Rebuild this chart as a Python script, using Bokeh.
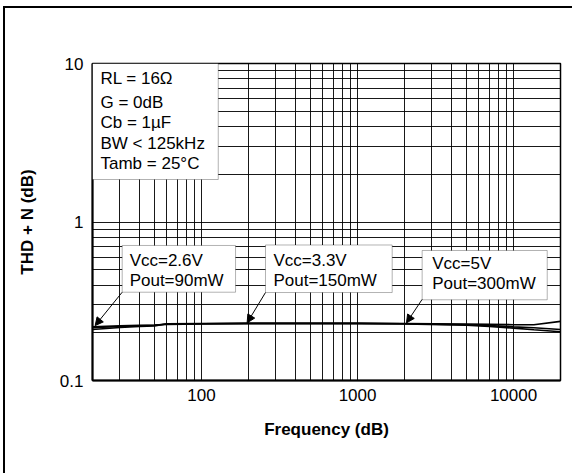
from bokeh.plotting import figure
from bokeh.models import (FixedTicker, CustomJSTickFormatter, BoxAnnotation, Label,
                          Arrow, NormalHead, Range1d)
from bokeh.embed import file_html
from bokeh.resources import INLINE

# ---- data ----
freq = [20, 30, 40, 50, 60, 100, 200, 500, 1000, 2000, 5000, 7000, 10000, 13500, 20000]
thd_vcc26 = [0.210, 0.216, 0.219, 0.221, 0.228, 0.229, 0.230, 0.230, 0.230, 0.229, 0.227, 0.226, 0.225, 0.225, 0.236]
thd_vcc33 = [0.215, 0.219, 0.221, 0.223, 0.227, 0.228, 0.229, 0.229, 0.229, 0.228, 0.225, 0.222, 0.218, 0.215, 0.210]
thd_vcc50 = [0.218, 0.221, 0.223, 0.224, 0.226, 0.227, 0.228, 0.228, 0.228, 0.227, 0.223, 0.219, 0.214, 0.209, 0.203]

x_major = [100, 1000, 10000]
x_minor = [20, 30, 40, 50, 60, 70, 80, 90,
           200, 300, 400, 500, 600, 700, 800, 900,
           2000, 3000, 4000, 5000, 6000, 7000, 8000, 9000, 20000]
y_major = [0.1, 1, 10]
y_minor = [0.2, 0.3, 0.4, 0.5, 0.6, 0.7, 0.8, 0.9, 2, 3, 4, 5, 6, 7, 8, 9]

cond_lines = ["RL = 16\u03a9", "G = 0dB", "Cb = 1\u00b5F", "BW < 125kHz", "Tamb = 25\u00b0C"]
note_labels = [("Vcc=2.6V", "Pout=90mW"), ("Vcc=3.3V", "Pout=150mW"), ("Vcc=5V", "Pout=300mW")]

FONT = "Liberation Sans"

p = figure(width=569, height=467, x_axis_type="log", y_axis_type="log",
           x_range=Range1d(20, 20000), y_range=Range1d(0.1, 10),
           output_backend="svg", toolbar_location=None,
           min_border_left=87, min_border_right=14, min_border_top=55, min_border_bottom=95)
p.styles = {"margin-left": "3px", "margin-top": "6px",
            "border-left": "2px solid black", "border-top": "2px solid black"}

p.background_fill_color = "white"
p.border_fill_color = "white"
p.outline_line_color = "black"
p.outline_line_width = 1.5

for ax in (p.xaxis[0], p.yaxis[0]):
    ax.axis_line_color = "black"
    ax.axis_line_width = 2
    ax.major_tick_out = 0
    ax.major_tick_in = 0
    ax.minor_tick_out = 0
    ax.minor_tick_in = 0
    ax.major_label_text_font = FONT
    ax.major_label_text_font_size = "17px"
    ax.major_label_text_color = "black"
    ax.axis_label_text_font = FONT
    ax.axis_label_text_font_size = "17px"
    ax.axis_label_text_font_style = "bold"
    ax.axis_label_text_color = "black"
    ax.formatter = CustomJSTickFormatter(code="return String(tick);")

p.xaxis.ticker = FixedTicker(ticks=x_major, minor_ticks=x_minor)
p.yaxis.ticker = FixedTicker(ticks=y_major, minor_ticks=y_minor)
p.xaxis.axis_label = "Frequency (dB)"
p.yaxis.axis_label = "THD + N (dB)"
p.xaxis.major_label_standoff = 8
p.yaxis.major_label_standoff = 9
p.xaxis.axis_label_standoff = 16
p.yaxis.axis_label_standoff = 20

for g in (p.xgrid[0], p.ygrid[0]):
    g.grid_line_color = "black"
    g.grid_line_width = 1
    g.grid_line_alpha = 0.9
    g.minor_grid_line_color = "black"
    g.minor_grid_line_width = 1
    g.minor_grid_line_alpha = 0.9

for series in (thd_vcc26, thd_vcc33, thd_vcc50):
    p.line(freq, series, line_color="black", line_width=1.6)

# conditions box
p.add_layout(BoxAnnotation(left=20, right=128, top=10, bottom=1.854,
                           fill_color="white", fill_alpha=1, line_color="black", line_width=1))
cond_y = [8.01, 5.70, 4.27, 3.13, 2.34]
for txt, yy in zip(cond_lines, cond_y):
    p.add_layout(Label(x=22.5, y=yy, text=txt, text_font=FONT, text_font_size="17px",
                       text_baseline="middle", text_align="left", text_color="black"))

# annotation boxes
boxes = [(31.0, 165.2, 0.711, 0.3606), (257, 1668, 0.716, 0.359), (2595, 16440, 0.661, 0.323)]
text_x = [34.6, 289, 3011]
text_y = [(0.571, 0.4275), (0.571, 0.4275), (0.547, 0.409)]
arrows = [((31.0, 0.3606), (20.8, 0.222)), ((257, 0.359), (196, 0.231)), ((2595, 0.325), (2060, 0.231))]
for (l, r, t, b), tx, (ty1, ty2), lines, (s, e) in zip(boxes, text_x, text_y, note_labels, arrows):
    p.add_layout(BoxAnnotation(left=l, right=r, top=t, bottom=b,
                               fill_color="white", fill_alpha=1, line_color="black", line_width=1))
    p.add_layout(Label(x=tx, y=ty1, text=lines[0], text_font=FONT, text_font_size="17px",
                       text_baseline="middle", text_align="left", text_color="black"))
    p.add_layout(Label(x=tx, y=ty2, text=lines[1], text_font=FONT, text_font_size="17px",
                       text_baseline="middle", text_align="left", text_color="black"))
    p.add_layout(Arrow(end=NormalHead(size=8, fill_color="black", line_color="black"),
                       x_start=s[0], y_start=s[1], x_end=e[0], y_end=e[1],
                       line_color="black", line_width=1))

open("out.html", "w").write(file_html(p, INLINE))
